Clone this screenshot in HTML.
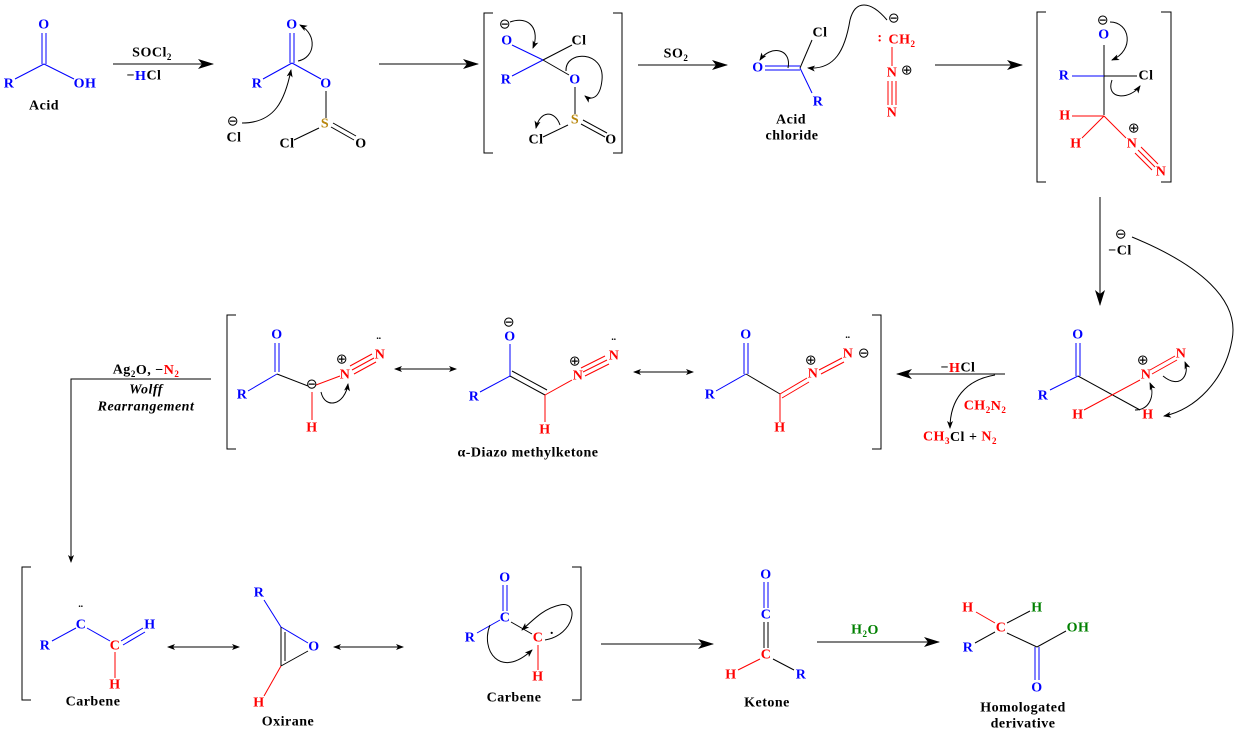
<!DOCTYPE html>
<html><head><meta charset="utf-8"><style>
html,body{margin:0;padding:0;background:#fff}
svg{display:block}
text{font-family:"Liberation Serif",serif;font-weight:bold;font-size:14px;letter-spacing:0.5px;text-anchor:middle;dominant-baseline:central}
.b{fill:#0000ff}.r{fill:#ff0000}.k{fill:#000}.g{fill:#008000}.y{fill:#b8860b}
.s{font-size:9px}
</style></head><body>
<svg width="1238" height="736" viewBox="0 0 1238 736" xmlns="http://www.w3.org/2000/svg">
<defs>
<marker id="a" markerWidth="10" markerHeight="8" refX="9" refY="4" orient="auto" markerUnits="userSpaceOnUse"><path d="M0,0 L10,4 L0,8 L3,4z" fill="#000"/></marker>
<marker id="c" markerWidth="8" markerHeight="6" refX="7" refY="3" orient="auto" markerUnits="userSpaceOnUse"><path d="M0,0 L8,3 L0,6 L2,3z" fill="#000"/></marker>
<marker id="L" markerWidth="16" markerHeight="10" refX="15" refY="5" orient="auto" markerUnits="userSpaceOnUse"><path d="M0,0 L16,5 L0,10 L4,5z" fill="#000"/></marker>
</defs>
<g fill="none" stroke-width="1">
<g stroke="#0000ff"><line x1="42" y1="33" x2="42" y2="64"/><line x1="46" y1="33" x2="46" y2="64"/><line x1="15" y1="79" x2="44" y2="64"/><line x1="44" y1="64" x2="74" y2="79"/></g>
<line x1="113" y1="64" x2="213" y2="64" stroke="#000" marker-end="url(#L)"/>
<g stroke="#0000ff"><line x1="290" y1="33" x2="290" y2="63"/><line x1="294" y1="33" x2="294" y2="63"/><line x1="263" y1="79" x2="292" y2="63"/><line x1="292" y1="63" x2="321" y2="79"/></g>
<g stroke="#000"><line x1="326" y1="91" x2="326" y2="118"/><line x1="294" y1="140" x2="319" y2="128"/><line x1="331" y1="127" x2="354" y2="140"/><line x1="333" y1="123" x2="356" y2="136"/>
<path d="M242,123 C275,123 285,100 291,70" marker-end="url(#c)"/><path d="M298,61 C315,58 318,35 300,25" marker-end="url(#c)"/></g>
<line x1="379" y1="64" x2="478" y2="64" stroke="#000" marker-end="url(#L)"/>
<path d="M493,13 H484 V153 H493 M613,13 H622 V153 H613" stroke="#000"/>
<g stroke="#0000ff"><line x1="512" y1="45" x2="543" y2="60"/><line x1="512" y1="76" x2="543" y2="60"/></g>
<g stroke="#000"><line x1="543" y1="60" x2="572" y2="45"/><line x1="543" y1="60" x2="569" y2="75"/><line x1="575" y1="87" x2="575" y2="114"/><line x1="543" y1="137" x2="568" y2="125"/><line x1="581" y1="124" x2="605" y2="137"/><line x1="583" y1="120" x2="607" y2="133"/>
<path d="M510,22 C530,15 540,30 533,48" marker-end="url(#c)"/><path d="M566,71 C565,50 605,50 602,80 C600,100 590,100 585,96" marker-end="url(#c)"/><path d="M560,125 C555,110 540,110 536,128" marker-end="url(#c)"/></g>
<line x1="638" y1="65" x2="727" y2="65" stroke="#000" marker-end="url(#L)"/>
<g stroke="#0000ff"><line x1="765" y1="66" x2="800" y2="66"/><line x1="765" y1="70" x2="800" y2="70"/><line x1="800" y1="68" x2="812" y2="93"/></g>
<line x1="800" y1="68" x2="812" y2="40" stroke="#000"/>
<g stroke="#ff0000"><line x1="892" y1="47" x2="892" y2="66"/><line x1="888" y1="81" x2="888" y2="105"/><line x1="896" y1="81" x2="896" y2="105"/><line x1="892" y1="81" x2="892" y2="105"/></g>
<g stroke="#000"><path d="M887,20 C870,0 855,0 850,20 C845,50 835,70 808,68" marker-end="url(#c)"/><path d="M788,68 C792,48 770,45 760,60" marker-end="url(#c)"/></g>
<line x1="935" y1="65" x2="1022" y2="65" stroke="#000" marker-end="url(#L)"/>
<path d="M1046,12 H1037 V182 H1046 M1161,12 H1171 V182 H1161" stroke="#000"/>
<line x1="1104" y1="45" x2="1104" y2="115" stroke="#000"/>
<line x1="1072" y1="76" x2="1104" y2="76" stroke="#0000ff"/><line x1="1104" y1="76" x2="1137" y2="76" stroke="#000"/>
<g stroke="#ff0000"><line x1="1072" y1="116" x2="1104" y2="116"/><line x1="1104" y1="116" x2="1082" y2="138"/><line x1="1104" y1="116" x2="1126" y2="138"/><line x1="1138" y1="150" x2="1155" y2="167"/><line x1="1141" y1="147" x2="1158" y2="164"/><line x1="1135" y1="153" x2="1152" y2="170"/></g>
<g stroke="#000"><path d="M1110,22 C1130,22 1135,50 1112,60" marker-end="url(#c)"/><path d="M1112,80 C1105,100 1130,100 1140,86" marker-end="url(#c)"/></g>
<line x1="1100" y1="197" x2="1100" y2="305" stroke="#000" marker-end="url(#L)"/>
<path d="M1132,237 C1200,265 1240,300 1232,340 C1225,380 1195,410 1164,416" stroke="#000" marker-end="url(#c)"/>
<g stroke="#0000ff"><line x1="1076" y1="343" x2="1076" y2="376"/><line x1="1080" y1="343" x2="1080" y2="376"/><line x1="1050" y1="390" x2="1078" y2="376"/></g>
<line x1="1078" y1="376" x2="1140" y2="410" stroke="#000"/>
<g stroke="#ff0000"><line x1="1084" y1="410" x2="1140" y2="380"/><line x1="1150" y1="370" x2="1175" y2="356"/><line x1="1152" y1="374" x2="1177" y2="360"/></g>
<g stroke="#000"><path d="M1135,410 C1150,410 1155,395 1150,383" marker-end="url(#c)"/><path d="M1163,376 C1180,390 1190,375 1185,362" marker-end="url(#c)"/></g>
<line x1="1005" y1="374" x2="897" y2="374" stroke="#000" marker-end="url(#L)"/>
<path d="M995,375 C965,380 950,400 950,428" stroke="#000" marker-end="url(#c)"/>
<path d="M236,315 H227 V449 H236 M872,315 H881 V449 H872" stroke="#000"/>
<g stroke="#0000ff"><line x1="275" y1="343" x2="275" y2="372"/><line x1="279" y1="343" x2="279" y2="372"/><line x1="248" y1="391" x2="277" y2="374"/></g>
<line x1="277" y1="374" x2="308" y2="386" stroke="#000"/>
<g stroke="#ff0000"><line x1="312" y1="392" x2="312" y2="420"/><line x1="316" y1="385" x2="340" y2="376"/><line x1="352" y1="370" x2="374" y2="358"/><line x1="354" y1="374" x2="376" y2="362"/><line x1="350" y1="366" x2="372" y2="354"/></g>
<path d="M321,392 C325,410 345,405 348,384" stroke="#000" marker-end="url(#c)"/>
<g stroke="#000"><line x1="395" y1="369" x2="456" y2="369" marker-end="url(#c)"/><line x1="456" y1="369" x2="395" y2="369" marker-end="url(#c)"/></g>
<line x1="510" y1="344" x2="510" y2="376" stroke="#0000ff"/><line x1="480" y1="392" x2="510" y2="376" stroke="#0000ff"/>
<g stroke="#000"><line x1="510" y1="376" x2="545" y2="395"/><line x1="512" y1="371" x2="547" y2="390"/></g>
<g stroke="#ff0000"><line x1="545" y1="395" x2="545" y2="422"/><line x1="545" y1="395" x2="572" y2="380"/><line x1="583" y1="372" x2="607" y2="360"/><line x1="585" y1="376" x2="609" y2="364"/><line x1="581" y1="368" x2="605" y2="356"/></g>
<g stroke="#000"><line x1="634" y1="372" x2="693" y2="372" marker-end="url(#c)"/><line x1="693" y1="372" x2="634" y2="372" marker-end="url(#c)"/></g>
<g stroke="#0000ff"><line x1="744" y1="343" x2="744" y2="374"/><line x1="748" y1="343" x2="748" y2="374"/><line x1="716" y1="391" x2="746" y2="374"/></g>
<line x1="746" y1="374" x2="780" y2="394" stroke="#000"/>
<g stroke="#ff0000"><line x1="780" y1="394" x2="780" y2="422"/><line x1="780" y1="394" x2="807" y2="378"/><line x1="782" y1="398" x2="809" y2="382"/><line x1="819" y1="370" x2="842" y2="358"/><line x1="821" y1="374" x2="844" y2="362"/></g>
<path d="M211,379 H71 V562" stroke="#000" marker-end="url(#c)"/>
<path d="M31,567 H22 V700 H31 M572,567 H581 V700 H572" stroke="#000"/>
<g stroke="#0000ff"><line x1="52" y1="641" x2="76" y2="628"/><line x1="87" y1="628" x2="110" y2="641"/><line x1="121" y1="641" x2="143" y2="628"/><line x1="123" y1="645" x2="145" y2="632"/></g>
<line x1="115" y1="652" x2="115" y2="678" stroke="#ff0000"/>
<g stroke="#000"><line x1="168" y1="647" x2="239" y2="647" marker-end="url(#c)"/><line x1="239" y1="647" x2="168" y2="647" marker-end="url(#c)"/></g>
<line x1="264" y1="600" x2="281" y2="627" stroke="#0000ff"/><line x1="281" y1="627" x2="308" y2="643" stroke="#0000ff"/>
<g stroke="#000"><line x1="281" y1="627" x2="281" y2="666"/><line x1="285" y1="632" x2="285" y2="661"/><line x1="281" y1="666" x2="308" y2="651"/></g>
<line x1="281" y1="666" x2="264" y2="696" stroke="#ff0000"/>
<g stroke="#000"><line x1="334" y1="647" x2="403" y2="647" marker-end="url(#c)"/><line x1="403" y1="647" x2="334" y2="647" marker-end="url(#c)"/></g>
<g stroke="#0000ff"><line x1="503" y1="585" x2="503" y2="611"/><line x1="507" y1="585" x2="507" y2="611"/><line x1="477" y1="633" x2="500" y2="620"/></g>
<line x1="511" y1="622" x2="532" y2="634" stroke="#000"/>
<line x1="538" y1="645" x2="538" y2="670" stroke="#ff0000"/>
<g stroke="#000"><path d="M490,625 C480,650 500,680 532,650" marker-end="url(#c)"/><path d="M545,640 C575,635 580,600 560,605 C545,608 535,618 522,630" marker-end="url(#c)"/></g>
<line x1="601" y1="644" x2="713" y2="644" stroke="#000" marker-end="url(#L)"/>
<g stroke="#0000ff"><line x1="764" y1="582" x2="764" y2="608"/><line x1="768" y1="582" x2="768" y2="608"/></g>
<g stroke="#000"><line x1="764" y1="622" x2="764" y2="648"/><line x1="768" y1="622" x2="768" y2="648"/><line x1="773" y1="659" x2="794" y2="670"/></g>
<line x1="738" y1="670" x2="760" y2="659" stroke="#ff0000"/>
<line x1="817" y1="642" x2="939" y2="642" stroke="#000" marker-end="url(#L)"/>
<line x1="976" y1="612" x2="995" y2="623" stroke="#ff0000"/>
<g stroke="#000"><line x1="1007" y1="623" x2="1030" y2="611"/><line x1="975" y1="643" x2="995" y2="632"/><line x1="1007" y1="633" x2="1037" y2="647"/><line x1="1037" y1="647" x2="1066" y2="631"/></g>
<g stroke="#0000ff"><line x1="1035" y1="647" x2="1035" y2="680"/><line x1="1039" y1="647" x2="1039" y2="680"/></g>
</g>

<text x="44" y="25" class="b">O</text><text x="9" y="84" class="b">R</text><text x="85" y="84" class="b">OH</text><text x="44" y="106" class="k">Acid</text>
<text x="152" y="53" class="k">SOCl<tspan class="s" dy="4">2</tspan></text>
<text x="144" y="76" class="k">−<tspan class="b">H</tspan>Cl</text>
<text x="292" y="25" class="b">O</text><text x="257" y="84" class="b">R</text><text x="326" y="84" class="b">O</text><text x="325" y="124" class="y">S</text><text x="287" y="144" class="k">Cl</text><text x="361" y="144" class="k">O</text>
<text x="233" y="122" class="k" style="font-weight:normal">⊖</text><text x="234" y="138" class="k">Cl</text>
<text x="505" y="25" class="k" style="font-weight:normal">⊖</text><text x="507" y="41" class="b">O</text><text x="579" y="41" class="k">Cl</text><text x="506" y="80" class="b">R</text><text x="575" y="80" class="b">O</text><text x="575" y="120" class="y">S</text><text x="536" y="140" class="k">Cl</text><text x="611" y="140" class="k">O</text>
<text x="676" y="54" class="k">SO<tspan class="s" dy="4">2</tspan></text>
<text x="758" y="68" class="b">O</text><text x="820" y="33" class="k">Cl</text><text x="818" y="102" class="b">R</text><text x="791" y="120" class="k">Acid</text><text x="792" y="136" class="k">chloride</text>
<text x="894" y="19" class="k" style="font-weight:normal">⊖</text><text x="880" y="38" class="r">:</text><text x="902" y="40" class="r">CH<tspan class="s" dy="4">2</tspan></text>
<text x="892" y="73" class="r">N</text><text x="907" y="71" class="k" style="font-weight:normal">⊕</text><text x="892" y="113" class="r">N</text>
<text x="1103" y="21" class="k" style="font-weight:normal">⊖</text><text x="1104" y="35" class="b">O</text><text x="1064" y="76" class="b">R</text><text x="1146" y="76" class="k">Cl</text><text x="1065" y="116" class="r">H</text><text x="1076" y="144" class="r">H</text><text x="1132" y="144" class="r">N</text><text x="1134" y="129" class="k" style="font-weight:normal">⊕</text><text x="1161" y="172" class="r">N</text>
<text x="1121" y="235" class="k" style="font-weight:normal">⊖</text><text x="1120" y="251" class="k">−Cl</text>
<text x="1078" y="335" class="b">O</text><text x="1043" y="396" class="b">R</text><text x="1146" y="375" class="r">N</text><text x="1143" y="361" class="k" style="font-weight:normal">⊕</text><text x="1181" y="354" class="r">N</text><text x="1078" y="415" class="r">H</text><text x="1148" y="415" class="r">H</text>
<text x="958" y="368" class="k">−<tspan class="r">H</tspan>Cl</text>
<text x="985" y="406" class="r">CH<tspan class="s" dy="4">2</tspan><tspan dy="-4">N</tspan><tspan class="s" dy="4">2</tspan></text>
<text x="960" y="437" class="r">CH<tspan class="s" dy="4">3</tspan><tspan dy="-4" class="k">Cl + </tspan>N<tspan class="s" dy="4">2</tspan></text>
<text x="277" y="335" class="b">O</text><text x="242" y="395" class="b">R</text><text x="312" y="385" class="k" style="font-weight:normal">⊖</text><text x="345" y="375" class="r">N</text><text x="342" y="360" class="k" style="font-weight:normal">⊕</text><text x="380" y="355" class="r">N</text><text x="379" y="343" class="k">¨</text><text x="312" y="428" class="r">H</text>
<text x="509" y="323" class="k" style="font-weight:normal">⊖</text><text x="510" y="337" class="b">O</text><text x="474" y="397" class="b">R</text><text x="578" y="376" class="r">N</text><text x="575" y="362" class="k" style="font-weight:normal">⊕</text><text x="614" y="356" class="r">N</text><text x="614" y="344" class="k">¨</text><text x="545" y="430" class="r">H</text>
<text x="528" y="453" class="k">α-Diazo methylketone</text>
<text x="746" y="335" class="b">O</text><text x="710" y="395" class="b">R</text><text x="813" y="374" class="r">N</text><text x="811" y="361" class="k" style="font-weight:normal">⊕</text><text x="848" y="354" class="r">N</text><text x="848" y="342" class="k">¨</text><text x="864" y="354" class="k" style="font-weight:normal">⊖</text><text x="780" y="428" class="r">H</text>
<text x="146" y="370" class="k">Ag<tspan class="s" dy="4">2</tspan><tspan dy="-4">O, −</tspan><tspan class="r">N</tspan><tspan class="s r" dy="4">2</tspan></text>
<text x="146" y="390" class="k" style="font-style:italic">Wolff</text><text x="146" y="407" class="k" style="font-style:italic">Rearrangement</text>
<text x="81" y="625" class="b">C</text><text x="81" y="611" class="k">¨</text><text x="45" y="646" class="b">R</text><text x="115" y="646" class="r">C</text><text x="150" y="625" class="b">H</text><text x="115" y="685" class="r">H</text><text x="93" y="702" class="k">Carbene</text>
<text x="259" y="593" class="b">R</text><text x="314" y="647" class="b">O</text><text x="259" y="703" class="r">H</text><text x="288" y="722" class="k">Oxirane</text>
<text x="505" y="578" class="b">O</text><text x="505" y="618" class="b">C</text><text x="470" y="638" class="b">R</text><text x="538" y="638" class="r">C</text><text x="552" y="634" class="k">·</text><text x="538" y="677" class="r">H</text><text x="514" y="698" class="k">Carbene</text>
<text x="766" y="575" class="b">O</text><text x="766" y="615" class="b">C</text><text x="766" y="655" class="r">C</text><text x="731" y="675" class="r">H</text><text x="801" y="675" class="b">R</text><text x="767" y="703" class="k">Ketone</text>
<text x="865" y="630" class="g">H<tspan class="s" dy="4">2</tspan><tspan dy="-4">O</tspan></text>
<text x="968" y="608" class="r">H</text><text x="1037" y="608" class="g">H</text><text x="1001" y="628" class="r">C</text><text x="1078" y="628" class="g">OH</text><text x="968" y="648" class="b">R</text><text x="1037" y="688" class="b">O</text>
<text x="1023" y="708" class="k">Homologated</text><text x="1023" y="724" class="k">derivative</text>
</svg>
</body></html>
